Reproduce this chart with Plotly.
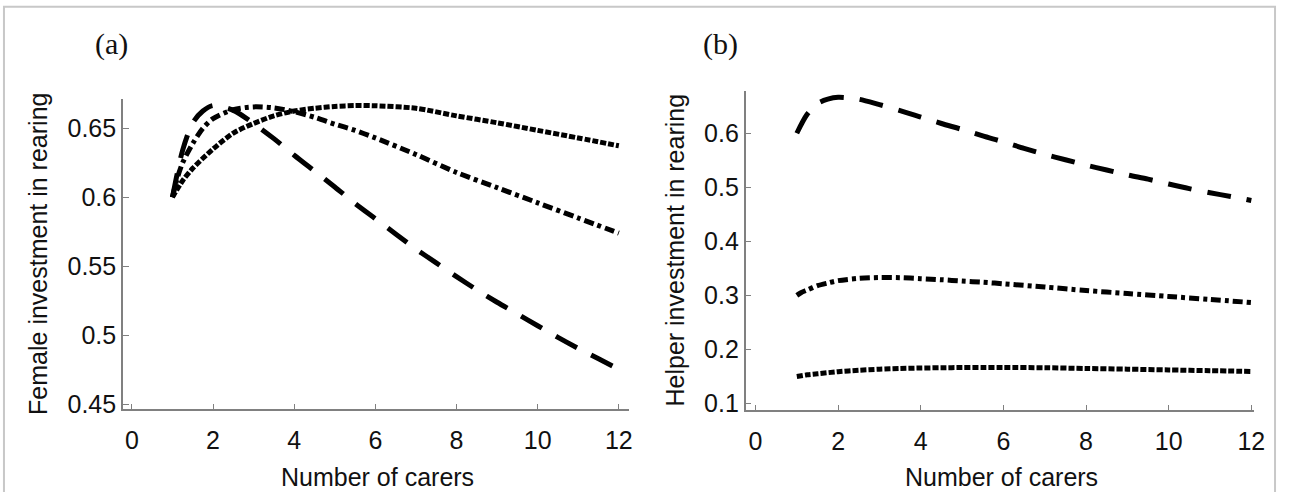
import plotly.graph_objects as go

# ---------------- data ----------------
x_dash = [1, 1.25, 1.5, 1.75, 2, 2.5, 3, 3.5, 4, 4.5, 5, 5.5, 6, 6.5, 7, 7.5, 8, 8.5, 9, 9.5, 10, 10.5, 11, 11.5, 12]
female_dash = [0.600, 0.634, 0.654, 0.6625, 0.6665, 0.663, 0.6535, 0.6425, 0.6305, 0.619, 0.6075, 0.5955, 0.5845,
               0.5735, 0.5625, 0.5525, 0.5425, 0.533, 0.524, 0.5155, 0.507, 0.4985, 0.4905, 0.483, 0.4755]
helper_dash = [0.600, 0.635, 0.655, 0.663, 0.6665, 0.663, 0.653, 0.642, 0.630, 0.618, 0.607, 0.595, 0.584,
               0.572, 0.561, 0.551, 0.541, 0.532, 0.523, 0.515, 0.506, 0.4975, 0.490, 0.483, 0.4755]

x_dd = [1, 1.1, 1.25, 1.5, 1.75, 2, 2.5, 3, 3.5, 4, 4.5, 5, 5.5, 6, 7, 8, 9, 10, 11, 12]
female_dd = [0.600, 0.612, 0.625, 0.639, 0.650, 0.657, 0.6635, 0.6655, 0.6648, 0.662, 0.658, 0.653, 0.6485,
             0.643, 0.631, 0.618, 0.607, 0.596, 0.585, 0.574]
helper_dd = [0.300, 0.305, 0.310, 0.318, 0.323, 0.3273, 0.3315, 0.333, 0.3328, 0.331, 0.329, 0.3265, 0.3243,
             0.3215, 0.3155, 0.309, 0.3035, 0.298, 0.2925, 0.2868]

x_dot = [1, 1.25, 1.5, 2, 2.5, 3, 3.5, 4, 4.5, 5, 5.5, 6, 7, 8, 9, 10, 11, 12]
female_dot = [0.600, 0.612, 0.621, 0.635, 0.6465, 0.6535, 0.659, 0.6625, 0.6645, 0.6658, 0.6665, 0.6663,
              0.6645, 0.659, 0.654, 0.6485, 0.643, 0.6373]
helper_dot = [0.150, 0.153, 0.155, 0.1588, 0.1615, 0.1634, 0.1648, 0.1656, 0.1661, 0.1665, 0.1666, 0.1666,
              0.1661, 0.1648, 0.1635, 0.1621, 0.1607, 0.1593]

x_ticks = [0, 2, 4, 6, 8, 10, 12]
y_ticks_a = [0.45, 0.5, 0.55, 0.6, 0.65]
y_ticks_b = [0.1, 0.2, 0.3, 0.4, 0.5, 0.6]
y_ticktext_b = ["0.1", "0.2", "0.3", "0.4", "0.5", "0.6"]

panel_labels = ["(a)", "(b)"]
y_titles = ["Female investment in rearing", "Helper investment in rearing"]
x_title = "Number of carers"

# ---------------- styles ----------------
W, H = 1290, 492
SANS = "Liberation Sans, Arial, Helvetica, sans-serif"
TICKFONT = dict(family=SANS, size=25, color="#111111")
TITLEFONT = dict(family=SANS, size=25, color="#111111")
LW = 5
DASH = "24px,16px"
DASHDOT = "10px,4px,4px,4px"
DOT = "6px,2px"

fig = go.Figure()

def add(x, y, dash, xa, ya):
    fig.add_trace(go.Scatter(x=x, y=y, mode="lines", xaxis=xa, yaxis=ya,
                             line=dict(color="black", width=LW, dash=dash, shape="spline", smoothing=0.8),
                             showlegend=False, hoverinfo="skip"))

add(x_dot, female_dot, DOT, "x", "y")
add(x_dd, female_dd, DASHDOT, "x", "y")
add(x_dash, female_dash, DASH, "x", "y")
add(x_dot, helper_dot, DOT, "x2", "y2")
add(x_dd, helper_dd, DASHDOT, "x2", "y2")
add(x_dash, helper_dash, DASH, "x2", "y2")

# pixel geometry of plot areas
ax_a = dict(l=124, r=634, t=101, b=417)
ax_b = dict(l=752, r=1265, t=93, b=418)

def dom_x(a):
    return [a["l"] / W, a["r"] / W]

def dom_y(a):
    return [1 - a["b"] / H, 1 - a["t"] / H]

common_axis = dict(showline=True, linecolor="#808080", linewidth=1.5, ticks="inside", ticklen=6,
                   tickcolor="#808080", tickwidth=1.2, showgrid=False, zeroline=False, mirror=False,
                   tickfont=TICKFONT)

fig.update_layout(
    width=W, height=H, margin=dict(l=0, r=0, t=0, b=0),
    paper_bgcolor="white", plot_bgcolor="white",
    xaxis=dict(domain=dom_x(ax_a), range=[-0.22, 12.24], tickvals=x_ticks, anchor="y",
               ticklabelstandoff=8, **common_axis),
    yaxis=dict(domain=dom_y(ax_a), range=[0.4464, 0.6711], tickvals=y_ticks_a, anchor="x", **common_axis),
    xaxis2=dict(domain=dom_x(ax_b), range=[-0.24, 12.07], tickvals=x_ticks, anchor="y2",
                ticklabelstandoff=8, **common_axis),
    yaxis2=dict(domain=dom_y(ax_b), range=[0.0873, 0.6776], tickvals=y_ticks_b, ticktext=y_ticktext_b,
                anchor="x2", **common_axis),
)

annotations = []
# panel labels
for lbl, px in zip(panel_labels, [112, 727]):
    annotations.append(dict(text=lbl, x=px / W, y=1 - 45 / H, xref="paper", yref="paper", showarrow=False,
                            xanchor="center", yanchor="middle",
                            font=dict(family="Liberation Serif, Times New Roman, serif", size=30, color="#111111")))
# x titles
for px in [381, 1010]:
    annotations.append(dict(text=x_title, x=px / W, y=1 - 486 / H, xref="paper", yref="paper", showarrow=False,
                            xanchor="center", yanchor="middle", font=TITLEFONT))
# y titles
for t, px, py in zip(y_titles, [39, 681], [259, 255]):
    annotations.append(dict(text=t, x=px / W, y=1 - py / H, xref="paper", yref="paper", showarrow=False,
                            xanchor="center", yanchor="middle", textangle=-90, font=TITLEFONT))
fig.update_layout(annotations=annotations)

# figure frame
fig.add_shape(type="rect", xref="paper", yref="paper", x0=4 / W, x1=1286 / W, y0=-0.05, y1=1 - 7 / H,
              line=dict(color="#c8c8c8", width=2), fillcolor="rgba(0,0,0,0)", layer="below")

fig.write_html("out.html", config={"displayModeBar": False},
               post_script="document.body.style.margin='0';document.body.style.overflow='hidden';")
